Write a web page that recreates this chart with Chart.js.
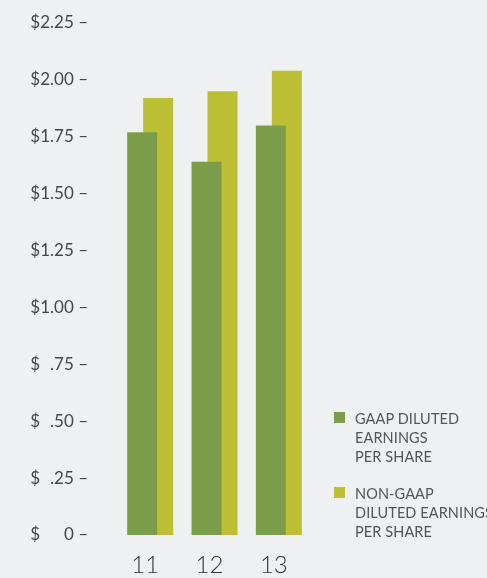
<!DOCTYPE html>
<html>
<head>
<meta charset="utf-8">
<script src="https://cdn.jsdelivr.net/npm/chart.js@4"></script>
<style>
  html, body { margin: 0; padding: 0; background: #eff0f2; }
  #wrap { position: relative; width: 487px; height: 578px; overflow: hidden; }
  #legend { position: absolute; left: 334px; top: 409px; font-family: Lato, sans-serif; font-size: 14.5px; color: #555; line-height: 19px; letter-spacing: 0.1px; }
  .item { display: flex; align-items: flex-start; margin-bottom: 18px; white-space: nowrap; }
  .sw { width: 11px; height: 11px; margin-top: 3px; margin-right: 10px; flex: none; }
</style>
</head>
<body>
<div id="wrap">
  <canvas id="c" width="487" height="578"></canvas>
  <div id="legend"></div>
</div>
<script>
const categories = ['11', '12', '13'];
const gaapEPS = [1.77, 1.64, 1.80];
const nonGaapEPS = [1.92, 1.95, 2.04];
const seriesNames = [['GAAP DILUTED', 'EARNINGS', 'PER SHARE'], ['NON-GAAP', 'DILUTED EARNINGS', 'PER SHARE']];
const seriesColors = ['#7b9d4a', '#bcbf33'];
const yTickValues = [0, 0.25, 0.5, 0.75, 1, 1.25, 1.5, 1.75, 2, 2.25];

function numPart(v) {
  if (v === 0) return '0 \u2013';
  const s = v.toFixed(2);
  if (v < 1) return s.slice(1) + ' \u2013';
  return s + ' \u2013';
}

const tickFont = { family: 'Lato', size: 17 };
const noGrid = { display: false, drawTicks: false };

new Chart(document.getElementById('c'), {
  type: 'bar',
  data: {
    labels: categories,
    datasets: [
      { label: seriesNames[0].join(' '), data: gaapEPS, backgroundColor: seriesColors[0], yAxisID: 'y',
        categoryPercentage: 0.497, barPercentage: 1.875 },
      { label: seriesNames[1].join(' '), data: nonGaapEPS, backgroundColor: seriesColors[1], yAxisID: 'y',
        categoryPercentage: 0.497, barPercentage: 1.875 }
    ]
  },
  options: {
    responsive: false,
    animation: false,
    layout: { padding: { left: 27, right: 176, top: 23, bottom: 0 } },
    plugins: { legend: { display: false }, tooltip: { enabled: false } },
    scales: {
      x: {
        grid: noGrid, border: { display: false },
        afterFit: (s) => { s.height = 43; },
        ticks: { color: '#333', font: { family: 'Lato', size: 24, weight: 300 }, padding: 16, labelOffset: -5, maxRotation: 0 }
      },
      y: {
        position: 'left', weight: 0, min: 0, max: 2.25,
        grid: noGrid, border: { display: false },
        afterFit: (s) => { s.width = 77; s.paddingTop = 0; s.paddingBottom = 0; },
        afterBuildTicks: (s) => { s.ticks = yTickValues.map(v => ({ value: v })); },
        ticks: { color: '#474747', font: tickFont, padding: 30, callback: (v) => numPart(v) }
      },
      yd: {
        position: 'left', weight: 1, min: 0, max: 2.25,
        grid: noGrid, border: { display: false },
        afterFit: (s) => { s.width = 14; s.paddingTop = 0; s.paddingBottom = 0; },
        afterBuildTicks: (s) => { s.ticks = yTickValues.map(v => ({ value: v })); },
        ticks: { color: '#474747', font: tickFont, padding: 1, callback: () => '$' }
      }
    }
  }
});

const lg = document.getElementById('legend');
seriesNames.forEach((lines, i) => {
  const it = document.createElement('div'); it.className = 'item';
  const sw = document.createElement('div'); sw.className = 'sw'; sw.style.background = seriesColors[i];
  const tx = document.createElement('div'); tx.innerHTML = lines.join('<br>');
  it.appendChild(sw); it.appendChild(tx); lg.appendChild(it);
});
</script>
</body>
</html>
